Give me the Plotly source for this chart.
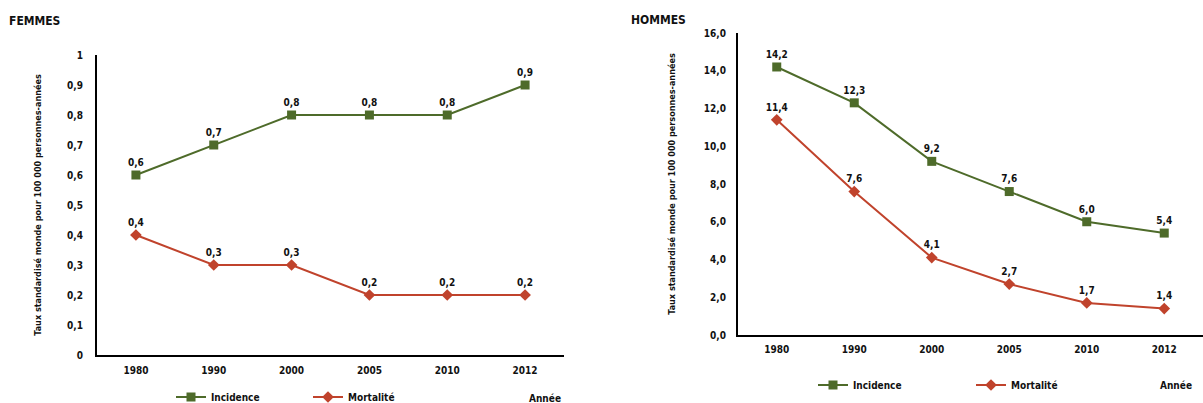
import plotly.graph_objects as go

# Données : taux standardisés monde pour 100 000 personnes-années
annees = ["1980", "1990", "2000", "2005", "2010", "2012"]

femmes_incidence = [0.6, 0.7, 0.8, 0.8, 0.8, 0.9]
femmes_mortalite = [0.4, 0.3, 0.3, 0.2, 0.2, 0.2]

hommes_incidence = [14.2, 12.3, 9.2, 7.6, 6.0, 5.4]
hommes_mortalite = [11.4, 7.6, 4.1, 2.7, 1.7, 1.4]

femmes_ticks = [0, 0.1, 0.2, 0.3, 0.4, 0.5, 0.6, 0.7, 0.8, 0.9, 1]
femmes_ticktext = ["0", "0,1", "0,2", "0,3", "0,4", "0,5", "0,6", "0,7", "0,8", "0,9", "1"]

VERT = "#4E6B2A"
ROUGE = "#C0432C"
FONT = "'DejaVu Sans Condensed', 'Liberation Sans Narrow', 'Roboto Condensed', 'Noto Sans', sans-serif"
W, H = 1203, 403


def fr(v, dec=1):
    return f"{v:.{dec}f}".replace(".", ",")


def px(x):
    return x / W


def py(y):
    return (H - y) / H


fig = go.Figure()

series = [
    ("x", "y", "legend", femmes_incidence, femmes_mortalite),
    ("x2", "y2", "legend2", hommes_incidence, hommes_mortalite),
]
for xa, ya, leg, inc, mort in series:
    fig.add_trace(go.Scatter(
        x=annees, y=inc, xaxis=xa, yaxis=ya, legend=leg,
        name="Incidence", mode="lines+markers+text",
        line=dict(color=VERT, width=2),
        marker=dict(symbol="square", size=9, color=VERT),
        text=[fr(v) for v in inc], textposition="top center",
        textfont=dict(family=FONT, size=10, color="#111111", weight="bold"),
        cliponaxis=False,
    ))
    fig.add_trace(go.Scatter(
        x=annees, y=mort, xaxis=xa, yaxis=ya, legend=leg,
        name="Mortalité", mode="lines+markers+text",
        line=dict(color=ROUGE, width=2),
        marker=dict(symbol="diamond", size=9, color=ROUGE),
        text=[fr(v) for v in mort], textposition="top center",
        textfont=dict(family=FONT, size=10, color="#111111", weight="bold"),
        cliponaxis=False,
    ))

tickfont = dict(family=FONT, size=10, color="#111111", weight="bold")
legfont = dict(family=FONT, size=10, color="#111111", weight="bold")


def ytitle(standoff):
    return dict(text="Taux standardisé monde pour 100 000 personnes-années",
                font=dict(family=FONT, size=9, color="#111111", weight="bold"),
                standoff=standoff)


fig.update_layout(
    width=W, height=H,
    margin=dict(l=0, r=0, t=0, b=0, autoexpand=False),
    paper_bgcolor="white", plot_bgcolor="white",
    showlegend=True,
    xaxis=dict(domain=[px(97), px(564)], anchor="y", type="category",
               range=[-0.5, 5.5], automargin=False,
               showline=True, linecolor="black", linewidth=2,
               showgrid=False, ticks="", tickfont=tickfont, ticklabelstandoff=5),
    yaxis=dict(domain=[py(355), py(55)], anchor="x", range=[0, 1], automargin=False,
               tickvals=femmes_ticks, ticktext=femmes_ticktext,
               showline=True, linecolor="black", linewidth=2,
               showgrid=False, ticks="", zeroline=False, tickfont=tickfont,
               ticklabelstandoff=10, title=ytitle(24)),
    xaxis2=dict(domain=[px(738), 1.0], anchor="y2", type="category",
                range=[-0.5, 5.5], automargin=False,
                showline=True, linecolor="black", linewidth=2,
                showgrid=False, ticks="", tickfont=tickfont, ticklabelstandoff=4),
    yaxis2=dict(domain=[py(335), py(33)], anchor="x2", range=[0, 16], automargin=False,
                dtick=2, tickformat=".1f",
                showline=True, linecolor="black", linewidth=2,
                showgrid=False, ticks="", zeroline=False, tickfont=tickfont,
                ticklabelstandoff=8, title=ytitle(27)),
    separators=", ",
    legend=dict(orientation="h", x=px(171), y=py(397), xanchor="left", yanchor="middle",
                entrywidth=92, entrywidthmode="pixels", traceorder="normal",
                font=legfont, bgcolor="rgba(0,0,0,0)"),
    legend2=dict(orientation="h", x=px(813), y=py(385), xanchor="left", yanchor="middle",
                 entrywidth=113, entrywidthmode="pixels", traceorder="normal",
                 font=legfont, bgcolor="rgba(0,0,0,0)"),
    annotations=[
        dict(text="FEMMES", x=px(7), y=py(21), xref="paper", yref="paper",
             xanchor="left", yanchor="middle", showarrow=False,
             font=dict(family=FONT, size=12, color="#111111", weight="bold")),
        dict(text="HOMMES", x=px(629), y=py(20), xref="paper", yref="paper",
             xanchor="left", yanchor="middle", showarrow=False,
             font=dict(family=FONT, size=12, color="#111111", weight="bold")),
        dict(text="Année", x=px(527), y=py(398), xref="paper", yref="paper",
             xanchor="left", yanchor="middle", showarrow=False,
             font=legfont),
        dict(text="Année", x=px(1158), y=py(385), xref="paper", yref="paper",
             xanchor="left", yanchor="middle", showarrow=False,
             font=legfont),
    ],
)

fig.write_html("out.html")
